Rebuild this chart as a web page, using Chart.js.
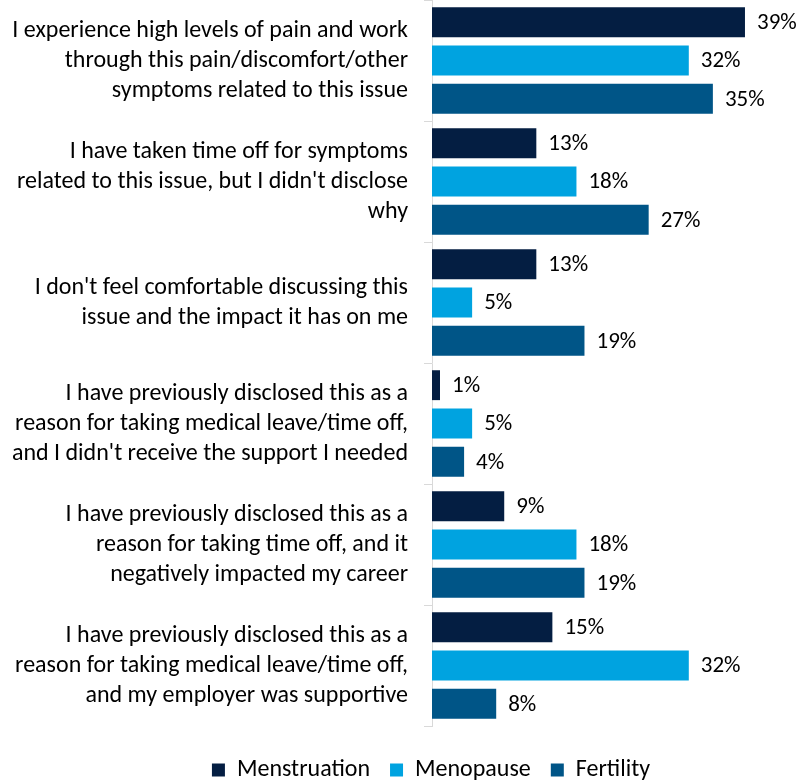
<!DOCTYPE html>
<html>
<head>
<meta charset="utf-8">
<script src="https://cdn.jsdelivr.net/npm/chart.js@4"></script>
<style>
html,body{margin:0;padding:0;background:#fff;}
#wrap{width:802px;height:780px;}
</style>
</head>
<body>
<div id="wrap"><canvas id="c" width="802" height="780"></canvas></div>
<script>
const categories = [
  ["I experience high levels of pain and work","through this pain/discomfort/other","symptoms related to this issue"],
  ["I have taken time off for symptoms","related to this issue, but I didn't disclose","why"],
  ["I don't feel comfortable discussing this","issue and the impact it has on me"],
  ["I have previously disclosed this as a","reason for taking medical leave/time off,","and I didn't receive the support I needed"],
  ["I have previously disclosed this as a","reason for taking time off, and it","negatively impacted my career"],
  ["I have previously disclosed this as a","reason for taking medical leave/time off,","and my employer was supportive"]
];
const seriesNames = ["Menstruation","Menopause","Fertility"];
const menstruation = [39,13,13,1,9,15];
const menopause = [32,18,5,5,18,32];
const fertility = [35,27,19,4,19,8];
const colors = ["#041E42","#00A3E0","#005587"];
const FONT = "Carlito, Lato, 'Liberation Sans', sans-serif";

const valueLabels = {
  id:'valueLabels',
  afterDatasetsDraw(chart){
    const ctx = chart.ctx;
    ctx.save();
    ctx.font = "23px " + FONT;
    ctx.fillStyle = "#000";
    ctx.textBaseline = "middle";
    ctx.textAlign = "left";
    chart.data.datasets.forEach((ds,i)=>{
      const meta = chart.getDatasetMeta(i);
      meta.data.forEach((bar,j)=>{
        ctx.fillText(ds.data[j]+"%", bar.x+12, bar.y+1);
      });
    });
    ctx.restore();
  }
};

const legendShift = {
  id:'legendShift',
  afterLayout(chart){
    const lg = chart.legend;
    if (lg) { lg.left = 60; lg.right = 802; lg.top += 12; lg.bottom += 12; }
  }
};

new Chart(document.getElementById('c'),{
  type:'bar',
  data:{
    labels:categories,
    datasets:[
      {label:seriesNames[0],data:menstruation,backgroundColor:colors[0]},
      {label:seriesNames[1],data:menopause,backgroundColor:colors[1]},
      {label:seriesNames[2],data:fertility,backgroundColor:colors[2]}
    ]
  },
  options:{
    indexAxis:'y',
    responsive:false,
    animation:false,
    categoryPercentage:0.95,
    barPercentage:0.78,
    layout:{padding:{left:0,right:49,top:-2,bottom:0}},
    scales:{
      x:{display:false,min:0,max:40},
      y:{
        afterFit(s){ s.width = 432; s.paddingTop = 0; s.paddingBottom = 0; },
        border:{color:'#d9d9d9',width:1},
        grid:{offset:true,drawOnChartArea:false,tickLength:8,color:'#d9d9d9'},
        ticks:{color:'#000',padding:16,font:{family:FONT,size:24,lineHeight:1.25},autoSkip:false}
      }
    },
    plugins:{
      legend:{
        position:'bottom',
        labels:{color:'#000',font:{family:FONT,size:24},boxWidth:13,boxHeight:13,padding:20}
      },
      tooltip:{enabled:false}
    }
  },
  plugins:[valueLabels, legendShift]
});
</script>
</body>
</html>
